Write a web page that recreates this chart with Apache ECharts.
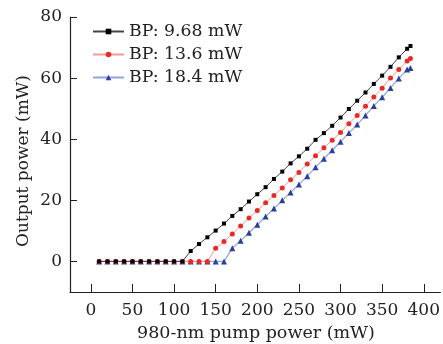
<!DOCTYPE html>
<html>
<head>
<meta charset="utf-8">
<script src="https://cdn.jsdelivr.net/npm/echarts@6/dist/echarts.min.js"></script>
<style>html,body{margin:0;padding:0;background:#fff}#c{width:443px;height:344px}</style>
</head>
<body>
<div id="c"></div>
<script>
var pumpPower = [10,20,30,40,50,60,70,80,90,100,110,120,130,140,150,160,170,180,190,200,210,220,230,240,250,260,270,280,290,300,310,320,330,340,350,360,370,380,384];
var outBP968 = [0,0,0,0,0,0,0,0,0,0,0,3.4,5.7,7.9,10.1,12.4,14.9,17.1,19.6,22.0,24.3,27.0,29.4,32.1,34.4,36.9,39.8,42.0,44.4,47.1,49.9,52.6,55.3,58.1,60.8,63.7,66.8,69.6,70.5];
var outBP136 = [0,0,0,0,0,0,0,0,0,0,0,0,0,0,4.3,6.5,9.0,11.6,14.2,16.7,19.2,21.6,24.0,26.7,29.1,31.9,34.6,37.2,39.7,42.2,45.1,47.8,50.8,53.8,56.7,60.0,62.8,65.6,66.4];
var outBP184 = [0,0,0,0,0,0,0,0,0,0,0,0,0,0,0,0,4.3,6.8,9.4,12.0,14.7,17.3,20.0,22.6,25.2,27.9,30.8,33.6,36.4,39.2,42.0,44.8,47.8,50.9,53.7,56.8,59.9,62.8,63.3];
var seriesNames = ['BP: 9.68 mW','BP: 13.6 mW','BP: 18.4 mW'];
var xTicks = [0,50,100,150,200,250,300,350,400];
var yTicks = [0,20,40,60,80];
var xTitle = '980-nm pump power (mW)';
var yTitle = 'Output power (mW)';

function pairs(ys){ return pumpPower.map(function(x,i){ return [x, ys[i]]; }); }
var FONT = 'DejaVu Serif';
var chart = echarts.init(document.getElementById('c'), null, {renderer:'canvas'});
chart.setOption({
  animation:false,
  backgroundColor:'#fff',
  grid:{left:70, top:17, right:0, bottom:52, containLabel:false},
  legend:{
    orient:'vertical', left:92, top:20, padding:0, itemWidth:31, itemHeight:7, itemGap:0,
    data:seriesNames,
    textStyle:{fontFamily:FONT, fontSize:17.3, color:'#222', lineHeight:23}
  },
  xAxis:{
    type:'value', min:-25, max:420,
    axisLine:{show:true, onZero:false, lineStyle:{color:'#222', width:1.2}},
    axisTick:{show:true, inside:true, length:8, customValues:xTicks, lineStyle:{color:'#222'}},
    axisLabel:{customValues:xTicks, fontFamily:FONT, fontSize:17, color:'#222', margin:10},
    splitLine:{show:false}
  },
  yAxis:{
    type:'value', min:-10, max:80,
    axisLine:{show:true, onZero:false, lineStyle:{color:'#222', width:1.2}},
    axisTick:{show:true, inside:true, length:7, customValues:yTicks, lineStyle:{color:'#222'}},
    axisLabel:{customValues:yTicks, fontFamily:FONT, fontSize:17, color:'#222', margin:8},
    splitLine:{show:false}
  },
  graphic:[
    {type:'text', x:256, y:333, style:{text:xTitle, font:'17.5px "DejaVu Serif"', fill:'#222', textAlign:'center', textVerticalAlign:'middle'}},
    {type:'text', x:24, y:161, rotation:Math.PI/2, style:{text:yTitle, font:'17px "DejaVu Serif"', fill:'#222', textAlign:'center', textVerticalAlign:'middle'}}
  ],
  series:[
    {name:seriesNames[0], type:'line', data:pairs(outBP968), symbol:'rect', symbolSize:4,
     lineStyle:{color:'#444', width:1}, itemStyle:{color:'#000'}, z:3},
    {name:seriesNames[1], type:'line', data:pairs(outBP136), symbol:'circle', symbolSize:5,
     lineStyle:{color:'#f29a94', width:1}, itemStyle:{color:'#ec2a24'}, z:2},
    {name:seriesNames[2], type:'line', data:pairs(outBP184), symbol:'triangle', symbolSize:6,
     lineStyle:{color:'#8ea6dc', width:1.2}, itemStyle:{color:'#2a3e9e'}, z:1}
  ]
});
</script>
</body>
</html>
